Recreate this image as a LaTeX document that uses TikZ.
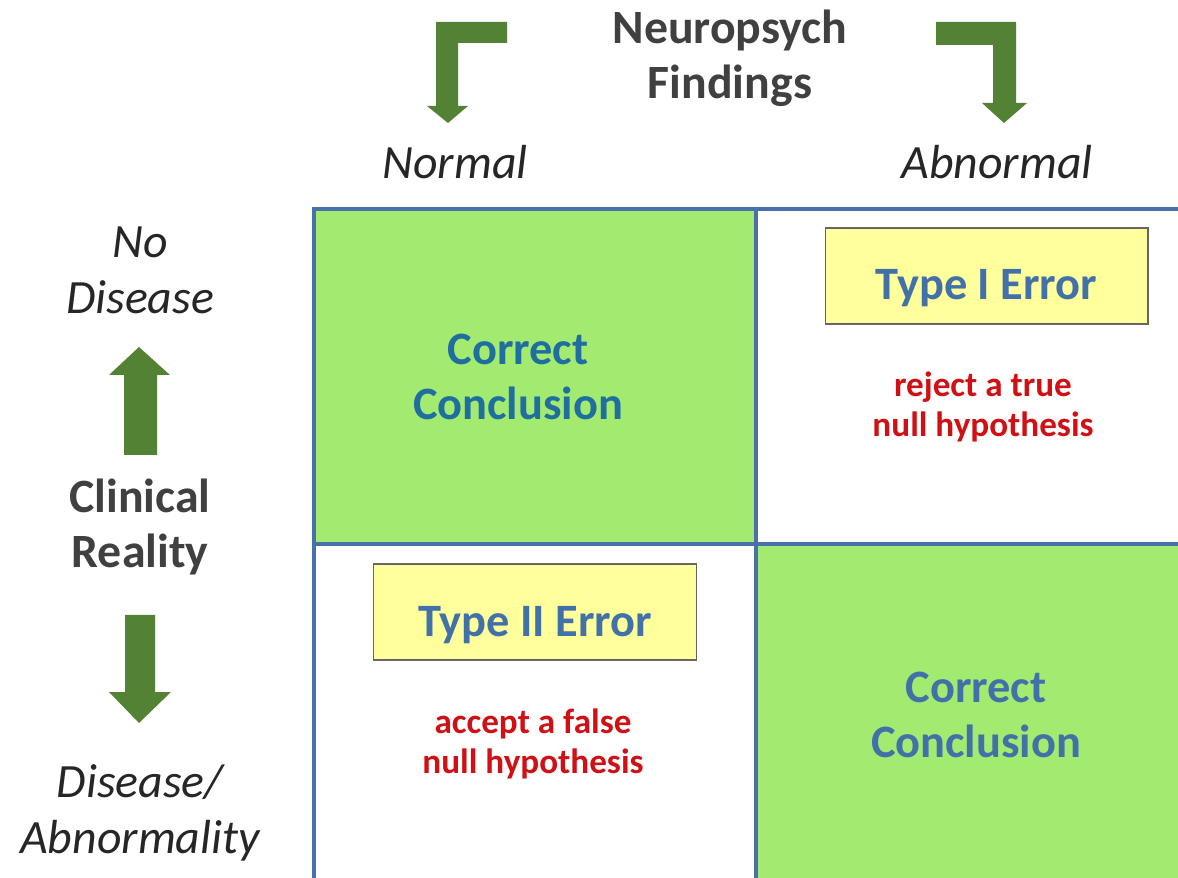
\documentclass[tikz,border=0pt]{standalone}
\usepackage{fontspec}
\setmainfont{Carlito}
\usepackage{tikz}

\definecolor{cellgreen}{RGB}{163,235,112}
\definecolor{gridblue}{RGB}{72,112,170}
\definecolor{notefill}{RGB}{255,255,155}
\definecolor{arrowgreen}{RGB}{84,130,53}
\definecolor{headgray}{RGB}{64,64,64}
\definecolor{errblue}{RGB}{66,112,168}
\definecolor{okteal}{RGB}{30,110,160}
\definecolor{hypred}{RGB}{208,16,20}

\begin{document}
\begin{tikzpicture}[x=0.025cm, y=-0.025cm,
  head/.style={align=center, inner sep=0pt, text=headgray, font=\fontsize{34}{39}\selectfont\bfseries},
  side/.style={align=center, inner sep=0pt, text=black!85, font=\fontsize{34}{40}\selectfont\itshape},
  verdict/.style={align=center, inner sep=0pt, font=\fontsize{33}{39}\selectfont\bfseries},
  hyp/.style={align=center, inner sep=0pt, text=hypred, font=\fontsize{25}{29}\selectfont\bfseries},
  notebox/.style={draw=black!60, line width=0.8pt, fill=notefill, minimum width=8.07cm, minimum height=2.4cm, inner sep=0pt},
  gridline/.style={draw=gridblue, line width=2.8pt}]
\useasboundingbox (0,0) rectangle (1178,878);
\clip (0,0) rectangle (1178,878);
\fill[cellgreen] (314,209) rectangle (756,544);
\fill[cellgreen] (756,544) rectangle (1190,890);
\draw[gridline] (1190,209) -- (314,209) -- (314,890);
\draw[gridline] (756,209) -- (756,890);
\draw[gridline] (314,544) -- (1190,544);
\fill[arrowgreen] (507,22) -- (436,22) -- (436,106) -- (427,106) -- (448,123) -- (468,106) -- (458,106) -- (458,43) -- (507,43) -- cycle;
\fill[arrowgreen] (936,22) -- (1016,22) -- (1016,103) -- (1027,103) -- (1004,123) -- (982,103) -- (993,103) -- (993,45) -- (936,45) -- cycle;
\fill[arrowgreen] (139,347) -- (170,375) -- (157,375) -- (157,455) -- (124,455) -- (124,375) -- (109,375) -- cycle;
\fill[arrowgreen] (125,615) -- (155,615) -- (155,692) -- (171,692) -- (139,723) -- (109,692) -- (125,692) -- cycle;
\node[head] (finding) at (730,58) {Neuropsych\\Findings};
\node[side] (normal) at (455,162) {Normal};
\node[side] (abnormal) at (997,162) {Abnormal};
\node[side] (nodis) at (140,270) {No\\Disease};
\node[head] (reality) at (140,527) {Clinical\\Reality};
\node[side] (dis) at (140,813) {Disease/\\Abnormality};
\node[verdict, text=okteal] (okA) at (518,377) {Correct\\Conclusion};
\node[verdict, text=errblue] (okB) at (976,715) {Correct\\Conclusion};
\node[notebox] (boxA) at (986.5,276) {};
\node[verdict, text=errblue] (typeA) at (986.5,288) {Type I Error};
\node[hyp] (rejA) at (983,407) {reject a true\\null hypothesis};
\node[notebox] (boxB) at (535,612) {};
\node[verdict, text=errblue] (typeB) at (535,625) {Type II Error};
\node[hyp] (accB) at (533,744) {accept a false\\null hypothesis};
\end{tikzpicture}
\end{document}
